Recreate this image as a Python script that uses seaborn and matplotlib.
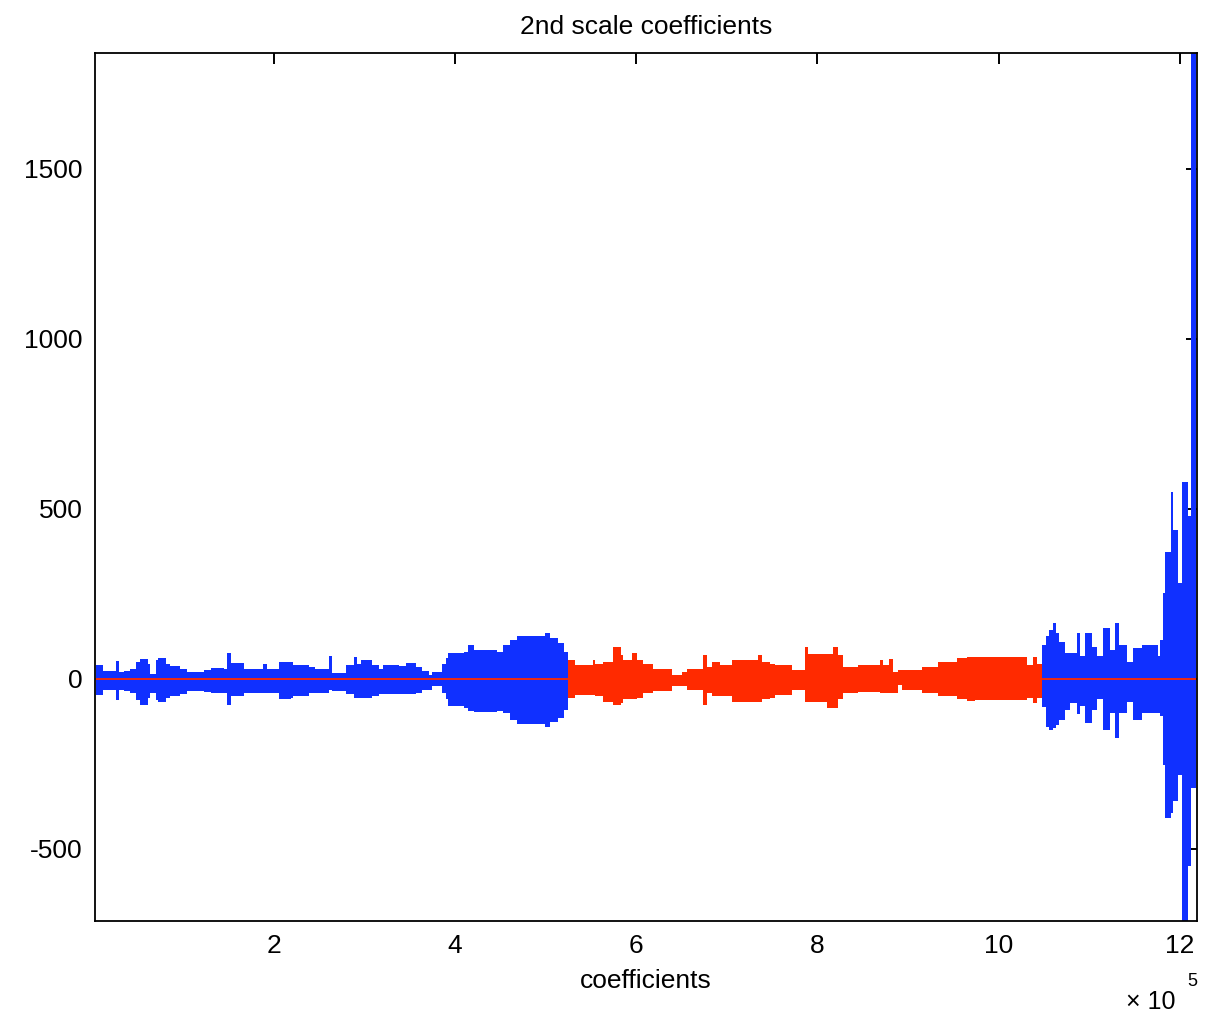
import numpy as np
import matplotlib
matplotlib.use("Agg")
import matplotlib.pyplot as plt
import seaborn as sns

# envelope of the coefficients (x in units of 1e5)
# blue part 1
x_b1 = [0.04, 0.115, 0.26, 0.29, 0.35, 0.42, 0.48, 0.53, 0.61, 0.64, 0.70, 0.73, 0.81, 0.86,
        0.97, 1.05, 1.23, 1.31, 1.45, 1.49, 1.53, 1.67, 1.88, 1.93, 2.06, 2.19, 2.21, 2.39,
        2.46, 2.61, 2.65, 2.80, 2.89, 2.92, 2.96, 3.09, 3.16, 3.21, 3.38, 3.46, 3.57, 3.64,
        3.71, 3.75, 3.86, 3.90, 3.93, 4.10, 4.15, 4.21, 4.47, 4.53, 4.61, 4.69, 5.00, 5.05,
        5.14, 5.20, 5.245]
up_b1 = [41, 22, 53, 21, 24, 30, 50, 60, 45, 15, 55, 62, 45, 38,
         30, 20, 25, 32, 30, 77, 47, 30, 45, 30, 50, 50, 42, 35,
         28, 66, 18, 40, 64, 45, 55, 40, 28, 42, 38, 48, 35, 22,
         12, 20, 45, 62, 76, 80, 100, 85, 80, 100, 115, 126, 136, 120,
         105, 80, 80]
lo_b1 = [-47, -32, -62, -32, -35, -40, -62, -76, -55, -40, -62, -67, -55, -50,
         -45, -35, -38, -42, -40, -76, -50, -42, -40, -40, -60, -55, -50, -40,
         -40, -32, -35, -45, -55, -55, -55, -50, -45, -45, -45, -45, -40, -32,
         -32, -20, -40, -60, -80, -86, -95, -97, -95, -100, -120, -132, -140, -128,
         -115, -90, -90]

# red part (selected coefficients)
x_r = [5.245, 5.33, 5.52, 5.55, 5.64, 5.75, 5.83, 5.86, 5.96, 6.01, 6.08, 6.19, 6.40, 6.51,
       6.56, 6.74, 6.78, 6.84, 6.93, 7.06, 7.35, 7.39, 7.48, 7.53, 7.72, 7.86, 7.90, 8.11,
       8.17, 8.23, 8.28, 8.45, 8.69, 8.73, 8.79, 8.84, 8.89, 8.94, 9.16, 9.33, 9.54, 9.65,
       9.74, 10.31, 10.38, 10.42, 10.48]
up_r = [56, 42, 55, 45, 50, 95, 70, 55, 75, 55, 45, 30, 12, 20,
        30, 70, 35, 50, 40, 57, 70, 50, 45, 41, 25, 95, 72, 72,
        95, 70, 35, 42, 56, 42, 60, 20, 25, 25, 35, 50, 62, 65,
        65, 41, 65, 45, 45]
lo_r = [-55, -47, -47, -50, -67, -76, -70, -60, -60, -55, -40, -35, -20, -20,
        -32, -76, -40, -50, -50, -67, -67, -60, -55, -47, -32, -67, -67, -86,
        -86, -60, -40, -37, -40, -40, -40, -40, -18, -32, -40, -50, -58, -65,
        -62, -55, -70, -55, -55]

# blue part 2
x_b2 = [10.48, 10.52, 10.56, 10.60, 10.63, 10.67, 10.73, 10.79, 10.87, 10.90, 10.95, 11.03,
        11.09, 11.15, 11.23, 11.29, 11.33, 11.42, 11.48, 11.58, 11.76, 11.78, 11.81, 11.84,
        11.90, 11.93, 11.98, 12.03, 12.09, 12.12, 12.18]
up_b2 = [100, 125, 143, 165, 135, 110, 76, 76, 135, 66, 135, 94,
         66, 150, 85, 165, 100, 50, 90, 100, 66, 115, 253, 373,
         550, 438, 282, 580, 480, 1841, 1841]
lo_b2 = [-82, -140, -150, -145, -135, -120, -90, -70, -102, -80, -130, -90,
         -60, -150, -100, -175, -100, -68, -120, -100, -100, -110, -253, -410,
         -395, -360, -283, -712, -550, -320, -320]

x_ticks = [2, 4, 6, 8, 10, 12]
y_ticks = [-500, 0, 500, 1000, 1500]

blue = "#1030ff"
red = "#ff2a00"

sns.set_style("white")
plt.rcParams["font.family"] = ["Liberation Sans", "DejaVu Sans"]
plt.rcParams["text.color"] = "black"

fig = plt.figure(figsize=(12.12, 10.15), dpi=100)
ax = fig.add_axes([0.0784, 0.0926, 0.9092, 0.8552])

for xs, up, lo, c in [(x_b1, up_b1, lo_b1, blue), (x_r, up_r, lo_r, red), (x_b2, up_b2, lo_b2, blue)]:
    xs = np.array(xs) * 1e5
    ax.fill_between(xs, lo, up, step="post", color=c, lw=0, antialiased=True)

# zero line of the thresholded series over the whole range
sns.lineplot(x=[x_b1[0] * 1e5, x_b2[-1] * 1e5], y=[0, 0], color=red, lw=1.3, ax=ax)

ax.set_xlim(3000, 1219000)
ax.set_ylim(-712, 1841)
ax.set_xticks([t * 1e5 for t in x_ticks])
ax.set_xticklabels([str(t) for t in x_ticks])
ax.set_yticks(y_ticks)
ax.set_yticklabels([str(t) for t in y_ticks])
ax.tick_params(direction="in", length=8, width=1.4, top=True, right=True,
               labelsize=19, pad=9, colors="black")
for s in ax.spines.values():
    s.set_color("black")
    s.set_linewidth(1.3)

ax.set_title("2nd scale coefficients", fontsize=19, pad=14, color="black")
ax.set_xlabel("coefficients", fontsize=19, labelpad=8, color="black")

fig.text(1126 / 1212, 1 - 1002 / 1015, "\u00d7 10", fontsize=18, va="center", ha="left", color="black")
fig.text(1187 / 1212, 1 - 982 / 1015, "5", fontsize=13, va="center", ha="left", color="black")

plt.savefig("out.png", dpi=100)
